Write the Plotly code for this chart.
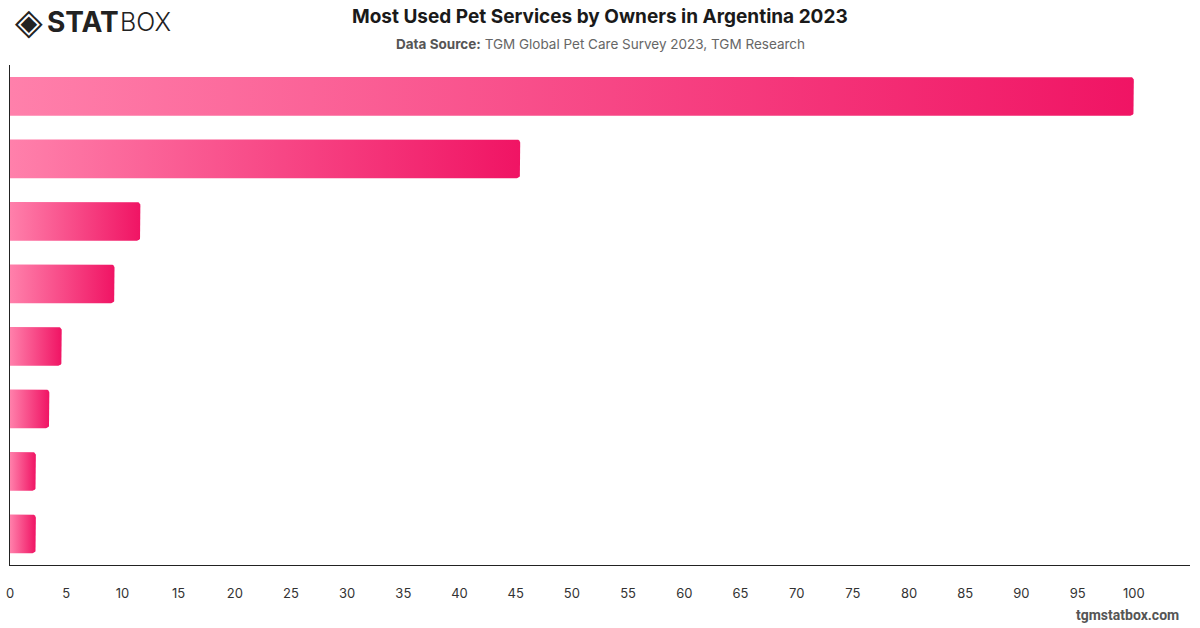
import numpy as np
import plotly.graph_objects as go

# ---- data ----
categories = [
    "Veterinary services",
    "Pet grooming",
    "Pet walking",
    "Pet sitting / boarding",
    "Pet training",
    "Pet daycare",
    "Pet insurance",
    "Other services",
]
values = [100, 45.4, 11.6, 9.3, 4.6, 3.5, 2.3, 2.3]
tick_vals = list(range(0, 101, 5))
tick_text = [str(v) for v in tick_vals]

title_text = "Most Used Pet Services by Owners in Argentina 2023"
source_label = "Data Source:"
source_text = "TGM Global Pet Care Survey 2023, TGM Research"

# ---- layout constants ----
W, H = 1200, 628
ML, MR, MT, MB = 10, 10, 65, 63
XMAX = 105.0
bar_frac = 0.62
light = "#FF80AB"
dark = "#F01464"

PW = W - ML - MR
PH = H - MT - MB
px_per_x = PW / XMAX
px_per_y = PH / len(categories)
rx = 3.5 / px_per_x
ry = 3.5 / px_per_y


def px_x(px):
    return (px - ML) / PW


def px_y(py):
    return 1 - (py - MT) / PH


fig = go.Figure()
for i, (cat, v) in enumerate(zip(categories, values)):
    y0, y1 = i - bar_frac / 2, i + bar_frac / 2
    r_x = min(rx, v / 2)
    t1 = np.linspace(-np.pi / 2, 0, 8)
    t2 = np.linspace(0, np.pi / 2, 8)
    xs = [0, v - r_x]
    ys = [y0, y0]
    xs += list(v - r_x + r_x * np.cos(t1))
    ys += list(y0 + ry + ry * np.sin(t1))
    xs += list(v - r_x + r_x * np.cos(t2))
    ys += list(y1 - ry + ry * np.sin(t2))
    xs += [v - r_x, 0, 0]
    ys += [y1, y1, y0]
    fig.add_trace(go.Scatter(
        x=xs, y=ys, mode="lines", fill="toself",
        line=dict(width=0, color="rgba(0,0,0,0)"),
        fillgradient=dict(type="horizontal",
                          colorscale=[[0, light], [1, dark]]),
        hoveron="fills", name=cat, text=f"{cat}: {v}",
        hoverinfo="text", showlegend=False,
    ))

fig.update_layout(
    width=W, height=H,
    margin=dict(l=ML, r=MR, t=MT, b=MB, autoexpand=False),
    paper_bgcolor="white", plot_bgcolor="white",
    font=dict(family="Inter, Roboto, sans-serif", color="#333"),
    xaxis=dict(range=[0, XMAX], tickvals=tick_vals, ticktext=tick_text,
               showgrid=False, zeroline=False, showline=True,
               linecolor="#222", linewidth=1, ticks="",
               ticklabelstandoff=16, automargin=False,
               tickfont=dict(size=13, color="#333")),
    yaxis=dict(range=[len(categories) - 0.5, -0.5], showgrid=False,
               zeroline=False, showline=True, linecolor="#222",
               linewidth=1, showticklabels=False, ticks="",
               automargin=False),
)

common = dict(xref="paper", yref="paper", showarrow=False, yanchor="middle")

fig.add_annotation(
    text=f"<b>{title_text}</b>", x=px_x(600), y=px_y(17), xanchor="center",
    font=dict(size=19, color="#1a1a1a", family="Inter, sans-serif"), **common,
)
fig.add_annotation(
    text=f"<span style='color:#555'><b>{source_label}</b></span> {source_text}",
    x=px_x(600), y=px_y(44), xanchor="center",
    font=dict(size=13.5, color="#666", family="Inter, sans-serif"), **common,
)
# logo
fig.add_annotation(
    text="◈", x=px_x(29), y=px_y(22), xanchor="center",
    font=dict(size=36, color="#222", family="DejaVu Sans"), **common,
)
fig.add_annotation(
    text="<b>STAT</b>", x=px_x(45), y=px_y(22), xanchor="left",
    font=dict(size=28, color="#222", family="Inter, sans-serif", weight=900),
    **common,
)
fig.add_annotation(
    text="BOX", x=px_x(118), y=px_y(22), xanchor="left",
    font=dict(size=25, color="#222", family="Inter, sans-serif", weight=300),
    **common,
)
# footer
fig.add_annotation(
    text="<b>tgmstatbox.com</b>", x=px_x(1181), y=px_y(615), xanchor="right",
    font=dict(size=14, color="#555", family="Roboto, sans-serif"), **common,
)

fig.write_html("out.html")
